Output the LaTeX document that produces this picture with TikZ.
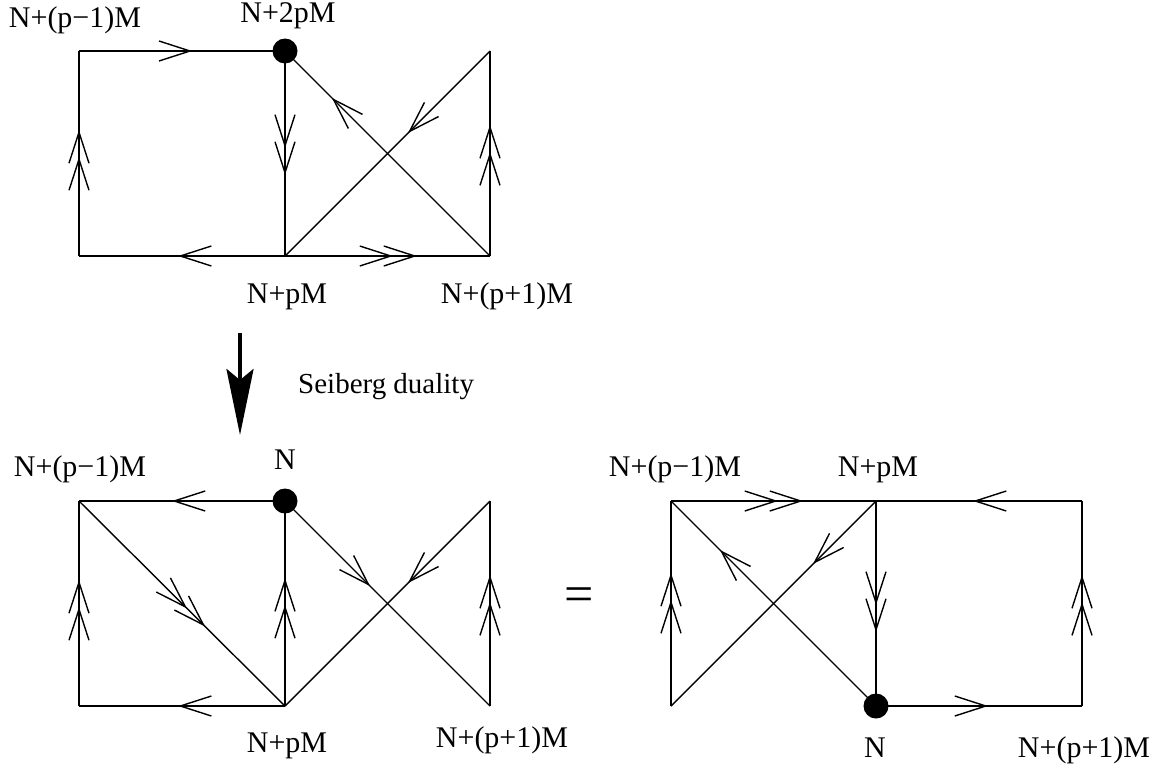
\documentclass[tikz,border=0pt]{standalone}
\usepackage{fontspec}
\setmainfont{Liberation Serif}
\usetikzlibrary{arrows.meta,decorations.markings}
\tikzset{
 oa/.tip={Straight Barb[length=31pt,width=20pt]},
 ln/.style={line width=1.4pt},
 m1/.style={postaction={decorate},decoration={markings,mark=at position #1 with {\arrow{oa}}}},
 m2/.style 2 args={postaction={decorate},decoration={markings,mark=at position #1 with {\arrow{oa}},mark=at position #2 with {\arrow{oa}}}},
 dot/.style={circle,fill=black,inner sep=0pt,minimum size=25pt},
 lbl/.style={anchor=base,font=\fontsize{30}{36}\selectfont,inner sep=0pt},
}
\begin{document}
\begin{tikzpicture}[x=1pt,y=-1pt]
\useasboundingbox (0,0) rectangle (1164,769);
% ---------- top diagram ----------
\coordinate (ta) at (79,51);
\coordinate (tb) at (285,51);
\coordinate (tc) at (490,51);
\coordinate (td) at (79,256);
\coordinate (te) at (285,256);
\coordinate (tf) at (490,256);
\draw[ln,m1=0.55] (ta) -- (tb);
\draw[ln,m2={0.483}{0.615}] (td) -- (ta);
\draw[ln,m2={0.473}{0.605}] (tb) -- (te);
\draw[ln,m1=0.771] (tf) -- (tb);
\draw[ln,m1=0.40] (tc) -- (te);
\draw[ln,m2={0.507}{0.639}] (tf) -- (tc);
\draw[ln,m1=0.519] (te) -- (td);
\draw[ln,m2={0.527}{0.644}] (te) -- (tf);
\node[dot] (tdot) at (tb) {};
\node[lbl] (t1) at (75,27) {N+(p−1)M};
\node[lbl] (t2) at (288,22) {N+2pM};
\node[lbl] (t3) at (287,303) {N+pM};
\node[lbl] (t4) at (507,303) {N+(p+1)M};
% ---------- Seiberg arrow ----------
\coordinate (s1) at (240,333);
\coordinate (s2) at (240,435);
\draw[line width=4pt,-{Stealth[length=66pt,width=27pt,inset=11pt]}] (s1) -- (s2);
\node[anchor=base west,font=\fontsize{29}{34}\selectfont,inner sep=0pt] (sd) at (298,393) {Seiberg duality};
% ---------- bottom-left diagram ----------
\coordinate (la) at (79,501);
\coordinate (lb) at (285,501);
\coordinate (lc) at (490,501);
\coordinate (ld) at (79,706);
\coordinate (le) at (285,706);
\coordinate (lf) at (490,706);
\draw[ln,m1=0.549] (lb) -- (la);
\draw[ln,m2={0.524}{0.612}] (la) -- (le);
\draw[ln,m2={0.483}{0.615}] (ld) -- (la);
\draw[ln,m2={0.493}{0.624}] (le) -- (lb);
\draw[ln,m1=0.415] (lb) -- (lf);
\draw[ln,m1=0.40] (lc) -- (le);
\draw[ln,m2={0.507}{0.639}] (lf) -- (lc);
\draw[ln,m1=0.519] (le) -- (ld);
\node[dot] (ldot) at (lb) {};
\node[lbl] (l1) at (80,476) {N+(p−1)M};
\node[lbl] (l2) at (285,469) {N};
\node[lbl] (l3) at (287,752) {N+pM};
\node[lbl] (l4) at (502,747) {N+(p+1)M};
% ---------- equals ----------
\node[font=\fontsize{52}{60}\selectfont,inner sep=0pt] (eq) at (579,600) {=};
% ---------- bottom-right diagram ----------
\coordinate (ra) at (671,501);
\coordinate (rb) at (876,501);
\coordinate (rc) at (1082,501);
\coordinate (rd) at (671,706);
\coordinate (re) at (876,706);
\coordinate (rf) at (1082,706);
\draw[ln,m2={0.522}{0.644}] (ra) -- (rb);
\draw[ln,m1=0.529] (rc) -- (rb);
\draw[ln,m2={0.517}{0.649}] (rd) -- (ra);
\draw[ln,m1=0.761] (re) -- (ra);
\draw[ln,m1=0.307] (rb) -- (rd);
\draw[ln,m2={0.507}{0.639}] (rb) -- (re);
\draw[ln,m2={0.507}{0.639}] (rf) -- (rc);
\draw[ln,m1=0.544] (re) -- (rf);
\node[dot] (rdot) at (re) {};
\node[lbl] (r1) at (675,476) {N+(p−1)M};
\node[lbl] (r2) at (878,476) {N+pM};
\node[lbl] (r3) at (875,757) {N};
\node[lbl] (r4) at (1084,757) {N+(p+1)M};
\end{tikzpicture}
\end{document}
